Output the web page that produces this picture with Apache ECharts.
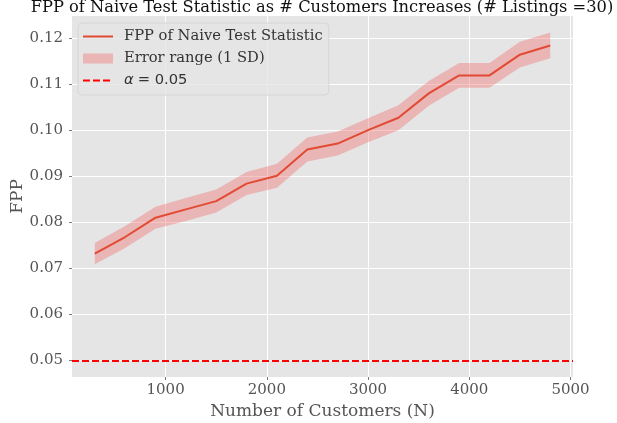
<!DOCTYPE html>
<html>
<head>
<meta charset="utf-8">
<script src="https://cdn.jsdelivr.net/npm/echarts@6/dist/echarts.min.js"></script>
<style>
  html, body { margin: 0; padding: 0; background: #fff; }
  #chart { width: 617px; height: 423px; }
</style>
</head>
<body>
<div id="chart"></div>
<script>
// number of customers (x)
const customers = [300, 600, 900, 1200, 1500, 1800, 2100, 2400, 2700, 3000, 3300, 3600, 3900, 4200, 4500, 4800];
// FPP of naive test statistic
const fpp = [0.0732, 0.0768, 0.0810, 0.0828, 0.0846, 0.0884, 0.0901, 0.0958, 0.0971, 0.1000, 0.1027, 0.1080, 0.1119, 0.1119, 0.1164, 0.1184];
// error band (1 SD)
const lower = [0.0709, 0.0744, 0.0786, 0.0803, 0.0821, 0.0859, 0.0875, 0.0932, 0.0945, 0.0974, 0.1000, 0.1053, 0.1092, 0.1092, 0.1136, 0.1156];
const upper = [0.0755, 0.0792, 0.0834, 0.0853, 0.0871, 0.0909, 0.0927, 0.0984, 0.0997, 0.1026, 0.1054, 0.1107, 0.1146, 0.1146, 0.1192, 0.1212];
const alpha = 0.05;
// tick labels
const xTicks = [1000, 2000, 3000, 4000, 5000];
const yTicks = [0.05, 0.06, 0.07, 0.08, 0.09, 0.10, 0.11, 0.12];

const myChart = echarts.init(document.getElementById('chart'));

const serif = 'DejaVu Serif';
const bandColor = 'rgba(240, 110, 110, 0.4)';

const option = {
  animation: false,
  title: {
    text: 'FPP of Naive Test Statistic as # Customers Increases (# Listings =30)',
    left: 322,
    top: 0,
    textAlign: 'center',
    padding: 0,
    textStyle: { fontFamily: serif, fontSize: 16.3, fontWeight: 'normal', color: '#111' }
  },
  legend: {
    left: 78,
    top: 23,
    orient: 'vertical',
    itemWidth: 30,
    itemHeight: 14,
    itemGap: 7,
    padding: [6, 6, 7, 5],
    backgroundColor: 'rgba(229,229,229,0.8)',
    borderColor: '#d6d6d6',
    borderWidth: 1,
    borderRadius: 4,
    textStyle: { fontFamily: serif, fontSize: 14.7, color: '#333', padding: [0, 0, 0, 6] },
    data: [
      {
        name: 'FPP of Naive Test Statistic',
        icon: 'path://M0,0 M0,6 L30,6 L30,8 L0,8 Z M30,14',
        itemStyle: { color: '#E24A33', borderWidth: 0 }
      },
      {
        name: 'Error range (1 SD)',
        icon: 'path://M0,0 M0,2 L30,2 L30,12 L0,12 Z M30,14',
        itemStyle: { color: bandColor, borderWidth: 0 }
      },
      {
        name: 'α = 0.05',
        icon: 'path://M0,0 M0,6 L7,6 L7,8 L0,8 Z M10,6 L17,6 L17,8 L10,8 Z M20,6 L27,6 L27,8 L20,8 Z M30,6 L30,8 Z M30,14',
        itemStyle: { color: '#FF0000', borderWidth: 0 }
      }
    ],
    formatter: function (name) {
      if (name === 'α = 0.05') return '{a|α}{b|= 0.05}';
      return name;
    },
    selectedMode: false
  },
  grid: {
    left: 72, right: 44, top: 16, bottom: 46,
    outerBoundsMode: 'none',
    show: true, backgroundColor: '#E5E5E5', borderWidth: 0
  },
  xAxis: {
    type: 'value',
    min: 75,
    max: 5025,
    name: 'Number of Customers (N)',
    nameLocation: 'middle',
    nameGap: 23,
    nameTextStyle: { fontFamily: serif, fontSize: 17, color: '#555' },
    axisLine: { show: false },
    axisTick: { show: true, length: 3, lineStyle: { color: '#777' }, customValues: xTicks },
    axisLabel: {
      fontFamily: serif, fontSize: 15, color: '#555', margin: 6, customValues: xTicks,
      formatter: v => String(v)
    },
    splitLine: { show: true, lineStyle: { color: '#fff', width: 1 } }
  },
  yAxis: {
    type: 'value',
    min: 0.0464,
    max: 0.1248,
    name: 'FPP',
    nameLocation: 'middle',
    nameGap: 46,
    nameMoveOverlap: false,
    nameTextStyle: { fontFamily: serif, fontSize: 17, color: '#555' },
    axisLine: { show: false },
    axisTick: { show: true, length: 3, lineStyle: { color: '#777' }, customValues: yTicks },
    axisLabel: {
      fontFamily: serif, fontSize: 15, color: '#555', margin: 9, customValues: yTicks,
      formatter: v => v.toFixed(2)
    },
    splitLine: { show: true, lineStyle: { color: '#fff', width: 1 } }
  },
  series: [
    {
      name: 'Error range (1 SD)',
      type: 'custom',
      itemStyle: { color: bandColor },
      data: customers.map((x, i) => [x, lower[i], upper[i]]),
      encode: { x: 0, y: [1, 2] },
      renderItem: function (params, api) {
        if (params.dataIndex !== 0) return null;
        const pts = [];
        for (let i = 0; i < customers.length; i++) pts.push(api.coord([customers[i], upper[i]]));
        for (let i = customers.length - 1; i >= 0; i--) pts.push(api.coord([customers[i], lower[i]]));
        return { type: 'polygon', shape: { points: pts }, style: { fill: bandColor } };
      },
      z: 2
    },
    {
      name: 'FPP of Naive Test Statistic',
      type: 'line',
      data: customers.map((x, i) => [x, fpp[i]]),
      symbol: 'none',
      lineStyle: { color: '#E24A33', width: 2 },
      itemStyle: { color: '#E24A33' },
      z: 3
    },
    {
      name: 'α = 0.05',
      type: 'line',
      data: [],
      itemStyle: { color: '#FF0000' },
      markLine: {
        silent: true,
        symbol: 'none',
        label: { show: false },
        lineStyle: { color: '#FF0000', type: [7, 3], width: 2 },
        data: [{ yAxis: alpha }]
      },
      z: 4
    }
  ]
};

option.legend.textStyle.rich = {
  a: { fontFamily: 'DejaVu Sans', fontStyle: 'italic', fontSize: 14.7, color: '#333', padding: [0, 4, 0, 0] },
  b: { fontFamily: 'DejaVu Sans', fontSize: 14.7, color: '#333' }
};

myChart.setOption(option);
window.addEventListener('resize', () => myChart.resize());
</script>
</body>
</html>
